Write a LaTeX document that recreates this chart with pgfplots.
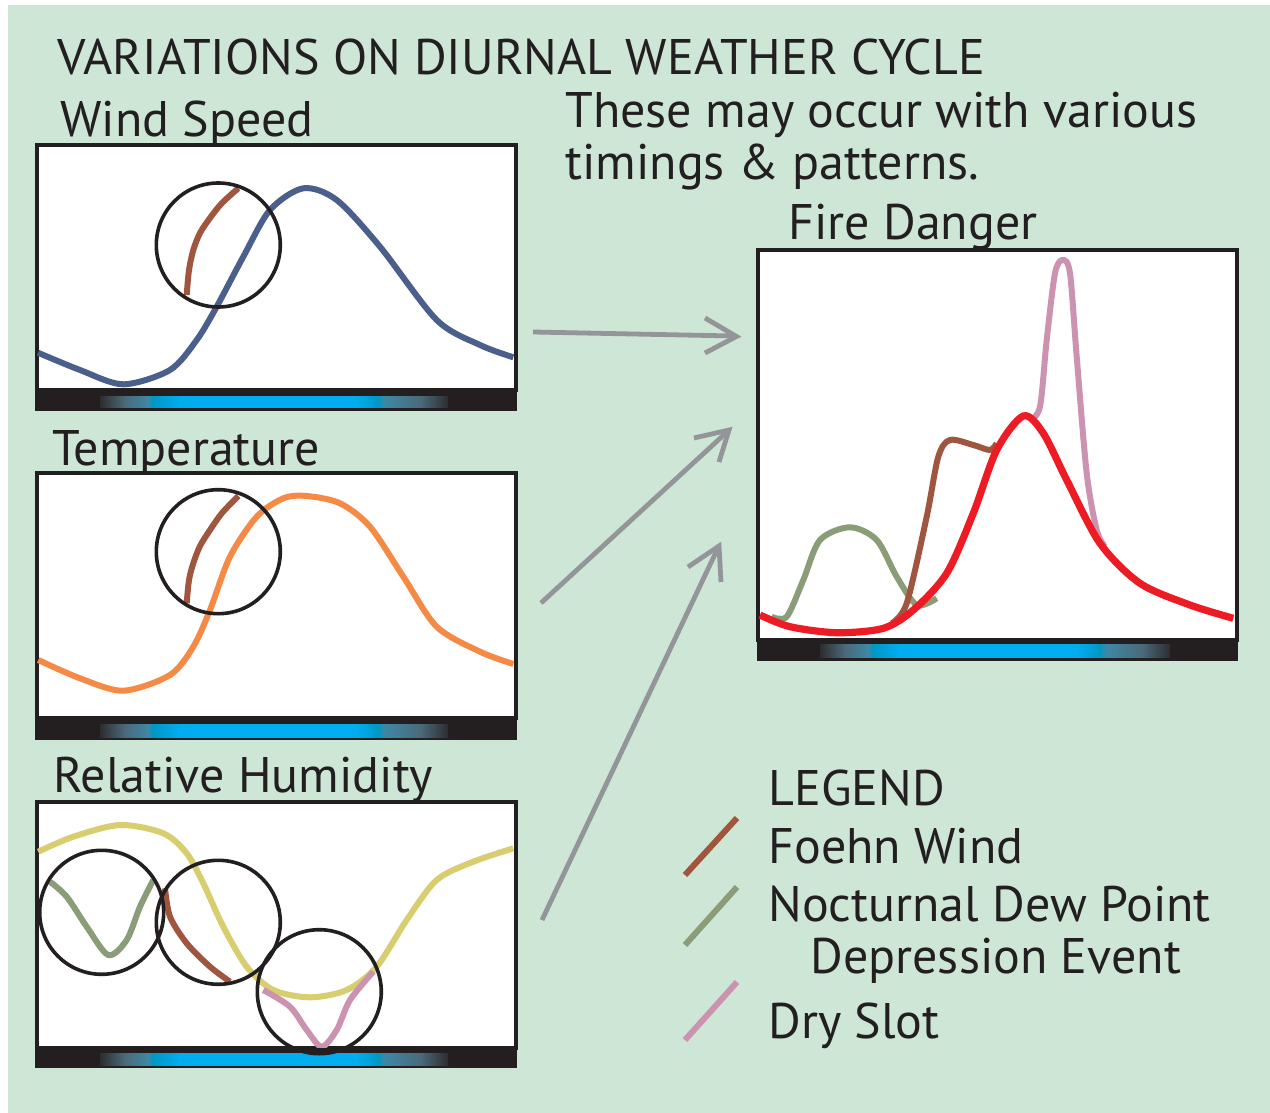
\documentclass[border=0pt]{standalone}
\usepackage{pgfplots}
\pgfplotsset{compat=1.18}
\usepackage{fontspec}
\setmainfont{PT Sans}

\definecolor{bg}{RGB}{205,230,214}
\definecolor{ink}{RGB}{35,31,32}
\definecolor{windblue}{RGB}{74,95,140}
\definecolor{temporange}{RGB}{245,138,70}
\definecolor{rhyellow}{RGB}{216,205,111}
\definecolor{foehn}{RGB}{160,85,63}
\definecolor{dewgreen}{RGB}{138,156,120}
\definecolor{dryslot}{RGB}{204,147,176}
\definecolor{firered}{RGB}{237,28,36}
\definecolor{arrowgray}{RGB}{147,149,152}
\definecolor{cA}{RGB}{45,45,48}
\definecolor{cB}{RGB}{74,106,122}
\definecolor{cC}{RGB}{62,136,165}
\definecolor{cD}{RGB}{0,151,194}
\definecolor{cE}{RGB}{0,160,216}
\definecolor{cF}{RGB}{0,174,239}

\pgfdeclarehorizontalshading{daybar}{100bp}{color(0bp)=(cA); color(25bp)=(cA); color(28.6bp)=(cB); color(31.9bp)=(cC); color(32.5bp)=(cD); color(34.3bp)=(cE); color(36.5bp)=(cF); color(61.6bp)=(cF); color(63.8bp)=(cE); color(64.9bp)=(cD); color(65.9bp)=(cC); color(71bp)=(cB); color(75bp)=(cA); color(100bp)=(cA)}

\pgfplotsset{panel/.style={scale only axis, clip=false, xtick=\empty, ytick=\empty,
  axis line style={line width=1.8pt, draw=ink}, axis background/.style={fill=white},
  anchor=south west},
  curve/.style={smooth, no markers, line width=3pt}}
\tikzset{ring/.style={draw=ink, line width=1.8pt}}

\newcommand{\txt}{\fontsize{25pt}{30pt}\selectfont}

\begin{document}
\begin{tikzpicture}
\begin{scope}[x=0.5pt,y=-0.5pt]
  \useasboundingbox (0,0) rectangle (1270,1113);
  \fill[white] (0,0) rectangle (1270,1113);
  \fill[bg] (8,5) rectangle (1270,1113);
\end{scope}

% Wind speed
\begin{axis}[panel, at={(18.5pt,-195pt)}, width=239.5pt, height=122.5pt,
  xmin=37, xmax=516, ymin=-390, ymax=-145]
  \addplot[curve, windblue] coordinates {(38,-352.7) (80,-370) (123.3,-384.3) (170,-370) (196.7,-340) (216.7,-306.7) (243.3,-256.7) (270,-210) (303.3,-188.3) (336.7,-200) (380,-246.7) (436.7,-320) (480,-345) (513.3,-357.3)};
  \addplot[curve, foehn] coordinates {(186.7,-295) (189,-270) (193.3,-250) (200,-233) (210,-218) (222,-203) (238.3,-188.3)};
  \draw[ring] (axis cs:218.3,-245) circle[radius=31pt];
  \fill[ink] (axis cs:35,-390) rectangle (axis cs:517,-411);
  \shade[shading=daybar] (axis cs:100,-396) rectangle (axis cs:448,-407);
\end{axis}

% Temperature
\begin{axis}[panel, at={(18.5pt,-359pt)}, width=239.5pt, height=122.5pt,
  xmin=37, xmax=516, ymin=-718, ymax=-473]
  \addplot[curve, temporange] coordinates {(38.3,-660) (80,-678.3) (123.3,-690.7) (170,-675) (193.3,-646.7) (210,-610) (230,-556.7) (256.7,-516.7) (283.3,-498.3) (306.7,-496) (340,-503.3) (370,-526.7) (403.3,-576.7) (436.7,-626.7) (480,-651.7) (513.3,-664)};
  \addplot[curve, foehn] coordinates {(186.7,-603.3) (189,-580) (193.3,-563.3) (200,-546) (210,-530) (222,-513) (238.3,-496)};
  \draw[ring] (axis cs:218.3,-551.7) circle[radius=31pt];
  \fill[ink] (axis cs:35,-718) rectangle (axis cs:517,-740);
  \shade[shading=daybar] (axis cs:100,-724) rectangle (axis cs:448,-737);
\end{axis}

% Relative humidity
\begin{axis}[panel, at={(18.5pt,-524pt)}, width=239.5pt, height=123pt,
  xmin=37, xmax=516, ymin=-1048, ymax=-802]
  \addplot[curve, rhyellow] coordinates {(38.3,-851.7) (73.3,-836.7) (120,-825) (163.3,-833.3) (186.7,-853.3) (203.3,-883.3) (223.3,-926.7) (246.7,-966.7) (273.3,-990) (310,-997.3) (346.7,-990) (376.7,-966.7) (406.7,-920) (436.7,-880) (473.3,-861.7) (513.3,-848.3)};
  \addplot[curve, dewgreen] coordinates {(50,-881.7) (66.7,-896.7) (86.7,-926.7) (108.3,-955) (126.7,-940) (140,-906.7) (153.3,-880)};
  \addplot[curve, foehn] coordinates {(165,-888.3) (170,-916.7) (186.7,-943.3) (210,-966.7) (230,-981.7)};
  \addplot[curve, dryslot] coordinates {(263.3,-990) (290,-1006.7) (306.7,-1030) (321.7,-1046.7) (336.7,-1030) (350,-1000) (373.3,-971.7)};
  \fill[ink] (axis cs:35,-1048) rectangle (axis cs:517,-1068);
  \shade[shading=daybar] (axis cs:100,-1053) rectangle (axis cs:448,-1065);
  \draw[ring] (axis cs:101.7,-912.3) circle[radius=31pt];
  \draw[ring] (axis cs:218.3,-922.3) circle[radius=31pt];
  \draw[ring] (axis cs:319.3,-991.7) circle[radius=31pt];
\end{axis}

% Fire danger
\begin{axis}[panel, at={(379pt,-320pt)}, width=239.5pt, height=195pt,
  xmin=758, xmax=1237, ymin=-640, ymax=-250]
  \addplot[curve, dewgreen] coordinates {(771.7,-616.7) (786.7,-616.7) (803.3,-580) (820,-540) (850,-527.3) (876.7,-540) (896.7,-576.7) (916.7,-605) (936.7,-598.3)};
  \addplot[curve, foehn] coordinates {(891.7,-623.3) (906.7,-603.3) (926.7,-516.7) (938.3,-456.7) (950,-440) (973.3,-445) (990,-450) (996.7,-443.3)};
  \addplot[curve, dryslot] coordinates {(1030,-420) (1040,-406.7) (1046.7,-340) (1055,-273.3) (1062.7,-260) (1070,-273.3) (1076.7,-356.7) (1086.7,-473.3) (1096.7,-530) (1105,-546.7)};
  \addplot[curve, firered, line width=3.6pt] coordinates {(760,-615) (790,-626.7) (836.7,-632.7) (883.3,-628.3) (913.3,-610) (946.7,-573.3) (973.3,-513.3) (996.7,-450) (1023.3,-416) (1043.3,-433.3) (1066.7,-480) (1100,-543.3) (1140,-583.3) (1190,-605) (1233.3,-618.3)};
  \fill[ink] (axis cs:757,-640) rectangle (axis cs:1238,-661);
  \shade[shading=daybar] (axis cs:820,-644) rectangle (axis cs:1170,-657);
\end{axis}

\begin{scope}[x=0.5pt,y=-0.5pt]
  % arrows
  \begin{scope}[draw=arrowgray, line width=2.4pt]
    \draw (533,332) -- (734,336);
    \draw (705,318) -- (736.5,336.5) -- (705,353);
    \draw (541,603) -- (727,432);
    \draw (694,438) -- (729,430) -- (719,462);
    \draw (542,920) -- (717,550);
    \draw (688,567) -- (719,546) -- (721,582);
  \end{scope}
  % legend lines
  \draw[foehn, line width=3pt] (685,875) -- (737,818);
  \draw[dewgreen, line width=3pt] (685,945) -- (737,887);
  \draw[dryslot, line width=3pt] (685,1040) -- (737,982);
  % texts
  \begin{scope}[every node/.style={anchor=base west, inner sep=0pt, text=ink, font=\txt}]
    \node at (57,75) {VARIATIONS ON DIURNAL WEATHER CYCLE};
    \node at (60,137) {Wind Speed};
    \node at (565,128) {These may occur with various};
    \node at (565,179) {timings \& patterns.};
    \node at (788,239) {Fire Danger};
    \node at (52,465) {Temperature};
    \node at (53,792) {Relative Humidity};
    \node at (768,805) {LEGEND};
    \node at (768,863) {Foehn Wind};
    \node at (768,921) {Nocturnal Dew Point};
    \node at (810,973) {Depression Event};
    \node at (768,1038) {Dry Slot};
  \end{scope}
\end{scope}
\end{tikzpicture}
\end{document}
